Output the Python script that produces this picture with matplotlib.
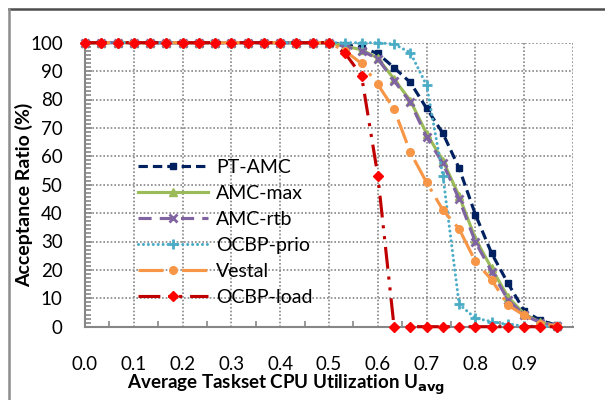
import matplotlib
matplotlib.use("Agg")
import matplotlib.pyplot as plt
from matplotlib.ticker import MultipleLocator, AutoMinorLocator, FixedLocator, FixedFormatter
from matplotlib.lines import Line2D

plt.rcParams['font.family'] = ['Lato', 'DejaVu Sans']

# x positions: 30 utilization steps of 1/30
u = [k / 30 for k in range(30)]

full = [100] * 16
pt_amc = full + [99.3, 98.3, 96.2, 91.2, 86.0, 76.9, 68.1, 55.8, 39.5, 25.8, 15.3, 5.6, 2.2, 0.5]
amc_max = full + [98.8, 97.5, 94.6, 87.2, 79.6, 68.0, 58.5, 46.0, 31.0, 20.5, 10.5, 4.5, 1.5, 0.4]
amc_rtb = full + [98.6, 97.2, 94.3, 86.6, 79.0, 66.8, 57.5, 44.9, 29.8, 19.4, 9.5, 4.1, 1.4, 0.4]
ocbp_prio = full + [100, 100, 100, 99.5, 96.5, 85.0, 53.2, 7.9, 3.0, 1.8, 0.8, 0.3, 0.1, 0.0]
vestal = full + [97.0, 92.7, 85.3, 76.6, 61.4, 50.8, 41.1, 34.4, 23.0, 16.5, 7.6, 4.0, 1.1, 0.3]
ocbp_load = full + [96.2, 88.4, 53.2, 0, 0, 0, 0, 0, 0, 0, 0, 0, 0, 0]

series = [
    ("PT-AMC", pt_amc, dict(color='#002060', ls=(0, (3, 1.6)), marker='s', ms=5)),
    ("AMC-max", amc_max, dict(color='#9BBB59', ls='-', marker='^', ms=6)),
    ("AMC-rtb", amc_rtb, dict(color='#8064A2', ls=(0, (4.2, 2.6)), marker='x', ms=6, mew=2)),
    ("OCBP-prio", ocbp_prio, dict(color='#4BACC6', ls=(0, (0.01, 1.6)), marker='+', ms=7.5, mew=2,
                                  dash_capstyle='round', lw=2.2)),
    ("Vestal", vestal, dict(color='#F79646', ls=(0, (8, 2.5, 1, 2.5)), marker='o', ms=5.5)),
    ("OCBP-load", ocbp_load, dict(color='#C00000', ls=(0, (7, 2.5, 1, 2.5, 1, 2.5)), marker='D', ms=5.5,
                                  mfc='#FF0000', mec='#FF0000')),
]

fig = plt.figure(figsize=(6.05, 4.0), dpi=100)
ax = fig.add_axes([85 / 605, 73.3 / 400, 488 / 605, 284 / 400])

for name, vals, st in series:
    kw = dict(lw=2.25)
    kw.update(st)
    ax.plot(u, vals, label=name, clip_on=False, zorder=3, **kw)

ax.set_xlim(0, 1.0)
ax.set_ylim(0, 100)

grid_c = '#868686'
xt = [i / 10 for i in range(11)]
ax.xaxis.set_major_locator(FixedLocator(xt))
ax.xaxis.set_major_formatter(FixedFormatter([f"{t:.1f}" for t in xt[:-1]] + [""]))
ax.xaxis.set_minor_locator(MultipleLocator(0.05))
ax.yaxis.set_major_locator(MultipleLocator(10))
ax.yaxis.set_minor_locator(AutoMinorLocator(7))

ax.grid(True, which='major', color=grid_c, ls=(0, (1, 1.2)), lw=1.2)
for s in ['top', 'right']:
    ax.spines[s].set_visible(False)
for s in ['left', 'bottom']:
    ax.spines[s].set_color(grid_c)
    ax.spines[s].set_linewidth(1.5)

ax.tick_params(axis='both', which='both', direction='in', color=grid_c, width=1.2, labelsize=13.5)
ax.tick_params(axis='both', which='major', length=5)
ax.tick_params(axis='both', which='minor', length=4)
ax.tick_params(axis='y', pad=16)
ax.tick_params(axis='x', pad=21)
ax.tick_params(axis='x', which='major', length=0)

fig.text(286 / 605, 1 - 385 / 400, r"Average Taskset CPU Utilization U$_{\mathbf{avg}}$",
         ha='center', va='center', fontsize=13.5, fontweight='bold')
fig.text(24 / 605, 1 - 195 / 400, "Acceptance Ratio (%)", rotation=90,
         ha='center', va='center', fontsize=14, fontweight='bold')

leg = ax.legend(loc='upper left', bbox_to_anchor=(138 / 605, 1 - 159 / 400),
                bbox_transform=fig.transFigure, frameon=False, fontsize=14,
                handlelength=3.6, handletextpad=0.4, labelspacing=0.46,
                borderpad=0, borderaxespad=0, numpoints=1)

# chart area border (clipped by image edge on right and bottom)
fig.add_artist(Line2D([8.5 / 605, 1], [1 - 8.5 / 400] * 2, transform=fig.transFigure,
                      color='#4d4d4d', lw=1.8))
fig.add_artist(Line2D([8.5 / 605] * 2, [1 - 8.5 / 400, 0], transform=fig.transFigure,
                      color='#8c8c8c', lw=1.8))

fig.savefig("out.png", dpi=100)
